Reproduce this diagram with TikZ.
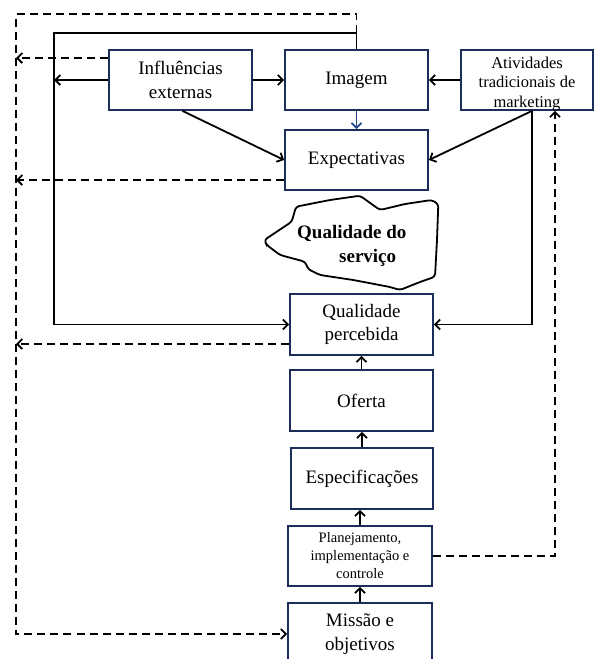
\documentclass[tikz,border=0pt]{standalone}
\usepackage{fontspec}
\setmainfont{Liberation Serif}
\usetikzlibrary{arrows.meta}
\definecolor{boxnavy}{RGB}{28,45,90}
\definecolor{arrblue}{RGB}{35,70,140}
\begin{document}
\begin{tikzpicture}[x=1pt,y=-1pt,
  >={Straight Barb[length=5pt,width=10pt]},
  box/.style={draw=boxnavy, line width=1.8pt, minimum width=143pt, minimum height=60pt,
    inner sep=2pt, align=center, font=\fontsize{19}{23.5}\selectfont},
  conn/.style={line width=1.8pt, ->},
  dconn/.style={line width=1.8pt, dash pattern=on 8pt off 5pt, ->}]
\useasboundingbox (0,0) rectangle (594,659);
\clip (0,0) rectangle (594,659);

% boxes
\node[box] (inf) at (180.5,80) {Influências\\externas};
\node[box] (img) at (356.5,80) {Imagem};
\node[box, minimum width=132pt] (ativ) at (527,80) {};
\node[align=center, font=\fontsize{16.5}{19.5}\selectfont, inner sep=0pt] (ativt) at (527,84) {Atividades\\tradicionais de\\marketing};
\node[box] (exp) at (356.5,160) {Expectativas};
\node[box, minimum height=61pt] (qp) at (361.5,324.5) {Qualidade\\percebida};
\node[box, minimum height=61pt] (of) at (361.5,400.5) {Oferta};
\node[box, minimum width=142pt, minimum height=61pt] (esp) at (362,478.5) {Especificações};
\node[box, minimum width=144pt, font=\fontsize{14.5}{18}\selectfont] (plan) at (360,556) {Planejamento,\\implementação e\\controle};
\node[box, minimum width=144pt, minimum height=62pt] (mis) at (360,634) {Missão e\\objetivos};

% cloud
\draw[line width=1.8pt, rounded corners=3pt] (264.3,240) -- (291.7,221.7) -- (296,206.7) -- (330,200)
  -- (360,195.7) -- (366,200) -- (380,210) -- (405,204) -- (431.7,200) -- (438.3,204)
  -- (437,240) -- (435,276.7) -- (420,282) -- (400,290) -- (390,287) -- (353.3,280)
  -- (320,275) -- (308.3,269.3) -- (305,261.7) -- (280,255) -- (266.7,245) -- cycle;
\node[anchor=north west, inner sep=0pt, align=left, font=\bfseries\fontsize{19}{24}\selectfont] (qs) at (297,225)
  {Qualidade do\\\hspace*{42pt}serviço};

% coordinates
\coordinate (jn) at (356.5,33);
\coordinate (tl) at (54,33);
\coordinate (lv1) at (54,80);
\coordinate (dtl) at (16,14);
\coordinate (d1) at (16,58);
\coordinate (d2) at (16,180);
\coordinate (d3) at (16,344);

% solid connectors
\draw[conn] (img.north) |- (tl) |- (qp.west);
\draw[conn] (inf.west) -- (lv1);
\draw[conn] (inf.east) -- (img.west);
\draw[conn] ([xshift=2pt]inf.south) -- (exp.west);
\draw[conn, arrblue] (img.south) -- (exp.north);
\draw[conn] (ativ.west) -- (img.east);
\draw[conn] ([xshift=5pt]ativ.south) -- (exp.east);
\draw[conn] ([xshift=5pt]ativ.south) |- (qp.east);
\draw[conn] (of.north) -- (of.north |- qp.south);
\draw[conn] (esp.north) -- (esp.north |- of.south);
\draw[conn] (plan.north) -- (plan.north |- esp.south);
\draw[conn] (mis.north) -- (mis.north |- plan.south);

% dashed connectors
\draw[dconn] (jn) |- (dtl) |- (mis.west);
\draw[dconn] ([yshift=22pt]inf.west) -- (d1);
\draw[dconn] ([yshift=-20pt]exp.west) -- (d2);
\draw[dconn] ([yshift=-19.5pt]qp.west) -- (d3);
\draw[dconn] (plan.east) -| ([xshift=28pt]ativ.south);
\end{tikzpicture}
\end{document}
